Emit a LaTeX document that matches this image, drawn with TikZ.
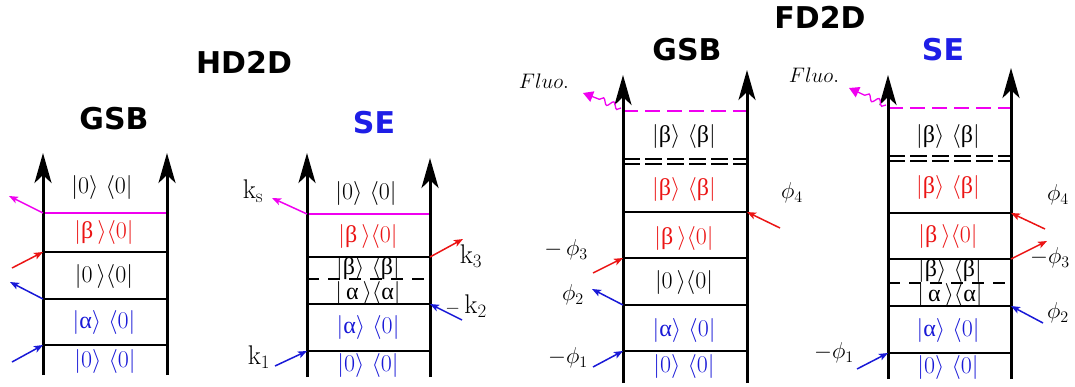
\RequirePackage{fix-cm}
\documentclass[tikz,border=0pt]{standalone}
\usepackage{fontspec}
\newfontfamily\titlefont{DejaVu Sans}
\newfontfamily\grk{Liberation Serif}
\usetikzlibrary{arrows.meta,decorations.pathmorphing}
\definecolor{cred}{RGB}{235,20,20}
\definecolor{cblue}{RGB}{25,25,215}
\definecolor{cmag}{RGB}{240,0,240}
\definecolor{ctblue}{RGB}{30,30,230}
\newcommand{\gbeta}{\mbox{\grk β}}
\newcommand{\galpha}{\mbox{\grk α}}
\tikzset{
  rail/.style={line width=3pt,-{Stealth[length=30pt,width=17pt,inset=8pt]}},
  level/.style={line width=2pt},
  maglevel/.style={line width=2.5pt,cmag},
  magdash/.style={line width=2.5pt,cmag,dash pattern=on 15pt off 7pt},
  middash/.style={line width=2.5pt,dash pattern=on 12pt off 9pt},
  dbldash/.style={line width=1.6pt,dash pattern=on 17pt off 5pt},
  lab/.style={font=\fontsize{24}{24}\selectfont,inner sep=0pt},
  phil/.style={font=\fontsize{23}{23}\selectfont,inner sep=0pt},
  klab/.style={font=\fontsize{27}{27}\selectfont,inner sep=0pt},
  flab/.style={font=\fontsize{21}{21}\selectfont,inner sep=0pt},
  ttl/.style={font=\titlefont\bfseries\fontsize{30}{30}\selectfont,inner sep=0pt},
  beam/.style={line width=1.5pt,-{Stealth[length=9pt,width=7pt,inset=2pt]}},
  wave/.style={cmag,line width=1.3pt,decorate,decoration={snake,amplitude=3pt,segment length=11pt}},
  wavetip/.style={cmag,line width=1.3pt,-{Triangle[length=10pt,width=11pt]}}
}
\begin{document}
\begin{tikzpicture}[x=1pt,y=-1pt]
\useasboundingbox (0,0) rectangle (1075,387);
% ---------------- titles
\node[ttl] (hd) at (244,62) {HD2D};
\node[ttl] (fd) at (820,17) {FD2D};
\node[ttl] (tA) at (114,119) {GSB};
\node[ttl,text=ctblue] (tB) at (374,123) {SE};
\node[ttl] (tC) at (687,50) {GSB};
\node[ttl,text=ctblue] (tD) at (943,50) {SE};

% ================= Panel A : HD2D GSB
\coordinate (aLb) at (43,375); \coordinate (aLt) at (43,153);
\coordinate (aRb) at (167,375); \coordinate (aRt) at (167,153);
\draw[maglevel] (43,213) -- (167,213);
\draw[level] (43,252) -- (167,252);
\draw[level] (43,299) -- (167,299);
\draw[level] (43,345) -- (167,345);
\draw[rail] (aLb) -- (aLt);
\draw[rail] (aRb) -- (aRt);
\node[lab] (aL1) at (102,188) {$|0\rangle\ \langle 0|$};
\node[lab,text=cred] (aL2) at (104,232) {$|\gbeta\,\rangle\langle 0|$};
\node[lab] (aL3) at (104,276) {$|0\,\rangle\langle 0|$};
\node[lab,text=cblue] (aL4) at (104,322) {$|\galpha\rangle\ \langle 0|$};
\node[lab,text=cblue] (aL5) at (105,361) {$|0\rangle\ \langle 0|$};
\coordinate (a1s) at (12,362); \coordinate (a1e) at (43,345);
\coordinate (a2s) at (43,299); \coordinate (a2e) at (10,282);
\coordinate (a3s) at (12,268); \coordinate (a3e) at (43,252);
\coordinate (a4s) at (43,213); \coordinate (a4e) at (9,196);
\draw[beam,cblue] (a1s) -- (a1e);
\draw[beam,cblue] (a2s) -- (a2e);
\draw[beam,cred] (a3s) -- (a3e);
\draw[beam,cmag] (a4s) -- (a4e);

% ================= Panel B : HD2D SE
\coordinate (bLb) at (307,377); \coordinate (bLt) at (307,153);
\coordinate (bRb) at (430,377); \coordinate (bRt) at (430,158);
\draw[maglevel] (307,214) -- (430,214);
\draw[level] (307,257) -- (430,257);
\draw[middash] (307,279) -- (430,279);
\draw[level] (307,304) -- (430,304);
\draw[level] (307,351) -- (430,351);
\draw[rail] (bLb) -- (bLt);
\draw[rail] (bRb) -- (bRt);
\node[lab] (bL1) at (366,194) {$|0\rangle\ \langle 0|$};
\node[lab,text=cred] (bL2) at (368,237) {$|\gbeta\,\rangle\langle 0|$};
\node[lab] (bL3) at (368,268) {$|\gbeta\rangle\ \langle\gbeta|$};
\node[lab] (bL4) at (368,293) {$|\,\galpha\,\rangle\langle\galpha|$};
\node[lab,text=cblue] (bL5) at (368,327) {$|\galpha\rangle\ \langle 0|$};
\node[lab,text=cblue] (bL6) at (368,365) {$|0\rangle\ \langle 0|$};
\coordinate (b1s) at (275,366); \coordinate (b1e) at (307,351);
\coordinate (b2s) at (462,320); \coordinate (b2e) at (430,304);
\coordinate (b3s) at (430,257); \coordinate (b3e) at (463,239);
\coordinate (b4s) at (307,214); \coordinate (b4e) at (272,198);
\draw[beam,cblue] (b1s) -- (b1e);
\draw[beam,cblue] (b2s) -- (b2e);
\draw[beam,cred] (b3s) -- (b3e);
\draw[beam,cmag] (b4s) -- (b4e);
\node[klab] (k1) at (259,357) {k$_1$};
\node[klab] (k2) at (466,306) {$\scriptstyle -$\,k$_2$};
\node[klab] (k3) at (471,256) {k$_3$};
\node[klab] (ks) at (253,191) {k$_{\mathrm{s}}$};

% ================= Panel C : FD2D GSB
\coordinate (cLb) at (623,383); \coordinate (cLt) at (623,75);
\coordinate (cRb) at (747,383); \coordinate (cRt) at (747,70);
\draw[magdash] (623,111) -- (747,111);
\draw[dbldash] (623,159) -- (747,159);
\draw[dbldash] (623,164) -- (747,164);
\draw[level] (623,212) -- (747,212);
\draw[level] (623,258) -- (747,258);
\draw[level] (623,305) -- (747,305);
\draw[level] (623,351) -- (747,351);
\draw[rail] (cLb) -- (cLt);
\draw[rail] (cRb) -- (cRt);
\node[lab] (cL1) at (684,137) {$|\gbeta\rangle\ \langle\gbeta|$};
\node[lab,text=cred] (cL2) at (684,190) {$|\gbeta\rangle\ \langle\gbeta|$};
\node[lab,text=cred] (cL3) at (684,238) {$|\gbeta\,\rangle\langle 0|$};
\node[lab] (cL4) at (684,282) {$|0\,\rangle\langle 0|$};
\node[lab,text=cblue] (cL5) at (684,330) {$|\galpha\rangle\ \langle 0|$};
\node[lab,text=cblue] (cL6) at (684,366) {$|0\rangle\ \langle 0|$};
\coordinate (c1s) at (593,367); \coordinate (c1e) at (623,351);
\coordinate (c2s) at (623,305); \coordinate (c2e) at (592,289);
\coordinate (c3s) at (593,273); \coordinate (c3e) at (623,258);
\coordinate (c4s) at (780,228); \coordinate (c4e) at (747,212);
\coordinate (cws) at (621,108); \coordinate (cwm) at (596,98); \coordinate (cwe) at (583,93);
\draw[beam,cblue] (c1s) -- (c1e);
\draw[beam,cblue] (c2s) -- (c2e);
\draw[beam,cred] (c3s) -- (c3e);
\draw[beam,cred] (c4s) -- (c4e);
\draw[wave] (cws) -- (cwm);
\draw[wavetip] (cwm) -- (cwe);
\node[phil] (cp1) at (568,358) {$-\phi_1$};
\node[phil] (cp2) at (573,295) {$\phi_2$};
\node[phil] (cp3) at (566,250) {$-\,\phi_3$};
\node[phil] (cp4) at (792,193) {$\phi_4$};
\node[flab] (cfl) at (544,81) {$Fluo.$};

% ================= Panel D : FD2D SE
\coordinate (dLb) at (888,379); \coordinate (dLt) at (888,75);
\coordinate (dRb) at (1011,379); \coordinate (dRt) at (1011,68);
\draw[magdash] (888,108) -- (1011,108);
\draw[dbldash] (888,156) -- (1011,156);
\draw[dbldash] (888,161) -- (1011,161);
\draw[level] (888,213) -- (1011,213);
\draw[level] (888,259) -- (1011,259);
\draw[middash] (888,283) -- (1011,283);
\draw[level] (888,306) -- (1011,306);
\draw[level] (888,353) -- (1011,353);
\draw[rail] (dLb) -- (dLt);
\draw[rail] (dRb) -- (dRt);
\node[lab] (dL1) at (948,137) {$|\gbeta\rangle\ \langle\gbeta|$};
\node[lab,text=cred] (dL2) at (948,188) {$|\gbeta\rangle\ \langle\gbeta|$};
\node[lab,text=cred] (dL3) at (948,237) {$|\gbeta\,\rangle\langle 0|$};
\node[lab] (dL4) at (950,270) {$|\gbeta\rangle\ \langle\gbeta|$};
\node[lab] (dL5) at (950,295) {$|\,\galpha\,\rangle\langle\galpha|$};
\node[lab,text=cblue] (dL6) at (948,330) {$|\galpha\rangle\ \langle 0|$};
\node[lab,text=cblue] (dL7) at (948,367) {$|0\rangle\ \langle 0|$};
\coordinate (d1s) at (857,369); \coordinate (d1e) at (888,353);
\coordinate (d2s) at (1043,323); \coordinate (d2e) at (1011,306);
\coordinate (d3s) at (1011,259); \coordinate (d3e) at (1047,241);
\coordinate (d4s) at (1045,229); \coordinate (d4e) at (1011,213);
\coordinate (dws) at (886,105); \coordinate (dwm) at (862,94); \coordinate (dwe) at (849,88);
\draw[beam,cblue] (d1s) -- (d1e);
\draw[beam,cblue] (d2s) -- (d2e);
\draw[beam,cred] (d3s) -- (d3e);
\draw[beam,cred] (d4s) -- (d4e);
\draw[wave] (dws) -- (dwm);
\draw[wavetip] (dwm) -- (dwe);
\node[phil] (dp1) at (834,353) {$-\phi_1$};
\node[phil] (dp2) at (1058,313) {$\phi_2$};
\node[phil] (dp3) at (1050,258) {$-\phi_3$};
\node[phil] (dp4) at (1058,195) {$\phi_4$};
\node[flab] (dfl) at (814,75) {$Fluo.$};
\end{tikzpicture}
\end{document}
